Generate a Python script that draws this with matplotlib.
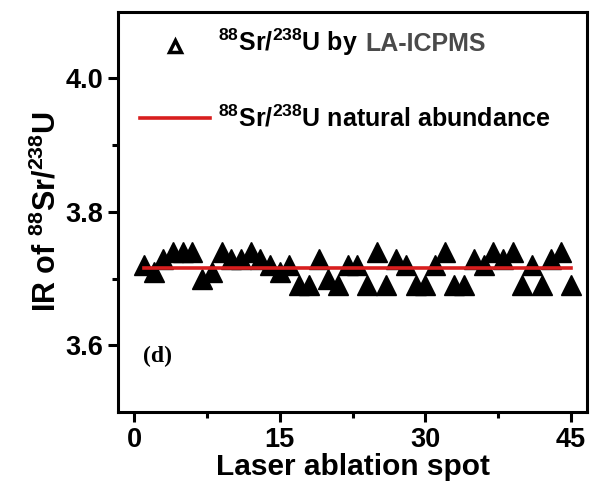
import matplotlib
matplotlib.use('Agg')
import matplotlib.pyplot as plt

plt.rcParams['font.family'] = ['Liberation Sans', 'DejaVu Sans']
plt.rcParams['font.weight'] = 'bold'
plt.rcParams['mathtext.fontset'] = 'custom'
plt.rcParams['mathtext.rm'] = 'Liberation Sans:bold'
plt.rcParams['mathtext.bf'] = 'Liberation Sans:bold'
plt.rcParams['mathtext.default'] = 'bf'

# laser ablation spots and measured 88Sr/238U isotope ratios
spots = list(range(1, 46))
ratios = [3.72, 3.71, 3.73, 3.74, 3.74, 3.74, 3.70, 3.71, 3.74, 3.73,
          3.73, 3.74, 3.73, 3.72, 3.71, 3.72, 3.69, 3.69, 3.73, 3.70,
          3.69, 3.72, 3.72, 3.69, 3.74, 3.69, 3.73, 3.72, 3.69, 3.69,
          3.72, 3.74, 3.69, 3.69, 3.73, 3.72, 3.74, 3.73, 3.74, 3.69,
          3.72, 3.69, 3.73, 3.74, 3.69]
errors = [0.01] * len(spots)
natural = 3.716

fig = plt.figure(figsize=(5.97, 4.91), dpi=100)
ax = fig.add_axes([0.198, 0.161, 0.785, 0.815])

ax.errorbar(spots, ratios, yerr=errors, fmt='none', ecolor='black', elinewidth=1.6, capsize=0)
ax.plot(spots, ratios, '^', color='black', markersize=15, zorder=3)
ax.plot([spots[0], spots[-1]], [natural, natural], color='#d81e1e', lw=2.6, zorder=4)

ax.set_xlim(-1.65, 46.65)
ax.set_ylim(3.5, 4.1)
ax.set_xticks([0, 15, 30, 45])
ax.set_xticks([7.5, 22.5, 37.5], minor=True)
ax.set_yticks([3.6, 3.8, 4.0])
ax.set_yticks([3.7, 3.9], minor=True)
ax.set_yticklabels(['3.6', '3.8', '4.0'])

for s in ax.spines.values():
    s.set_linewidth(2.2)
ax.tick_params(which='major', direction='out', length=7, width=2.2, labelsize=19.5, pad=4)
ax.tick_params(which='minor', direction='out', length=4.5, width=2.2)

ax.set_xlabel('Laser ablation spot', fontsize=21.5, fontweight='bold', labelpad=0)
ax.set_ylabel(r'IR of $^{88}$Sr/$^{238}$U', fontsize=22, fontweight='bold', labelpad=2)

# legend drawn by hand (label has two colours)
ax.plot([0.121], [0.915], '^', transform=ax.transAxes, markersize=9,
        markerfacecolor='white', markeredgecolor='black', markeredgewidth=2.5, clip_on=False)
fig.text(218 / 597, 1 - 51 / 491, r'$^{88}$Sr/$^{238}$U by', fontsize=18, fontweight='bold')
fig.text(365 / 597, 1 - 51 / 491, 'LA-ICPMS', fontsize=18, fontweight='bold', color='#4a4a4a')
ax.plot([0.6, 7.8], [3.94, 3.94], color='#d81e1e', lw=2.6)
fig.text(218 / 597, 1 - 126 / 491, r'$^{88}$Sr/$^{238}$U natural abundance', fontsize=18, fontweight='bold')

fig.text(143 / 597, 1 - 362 / 491, '(d)', fontsize=17, fontweight='bold',
         family=['Liberation Serif', 'DejaVu Serif'])

fig.savefig('out.png', dpi=100)
